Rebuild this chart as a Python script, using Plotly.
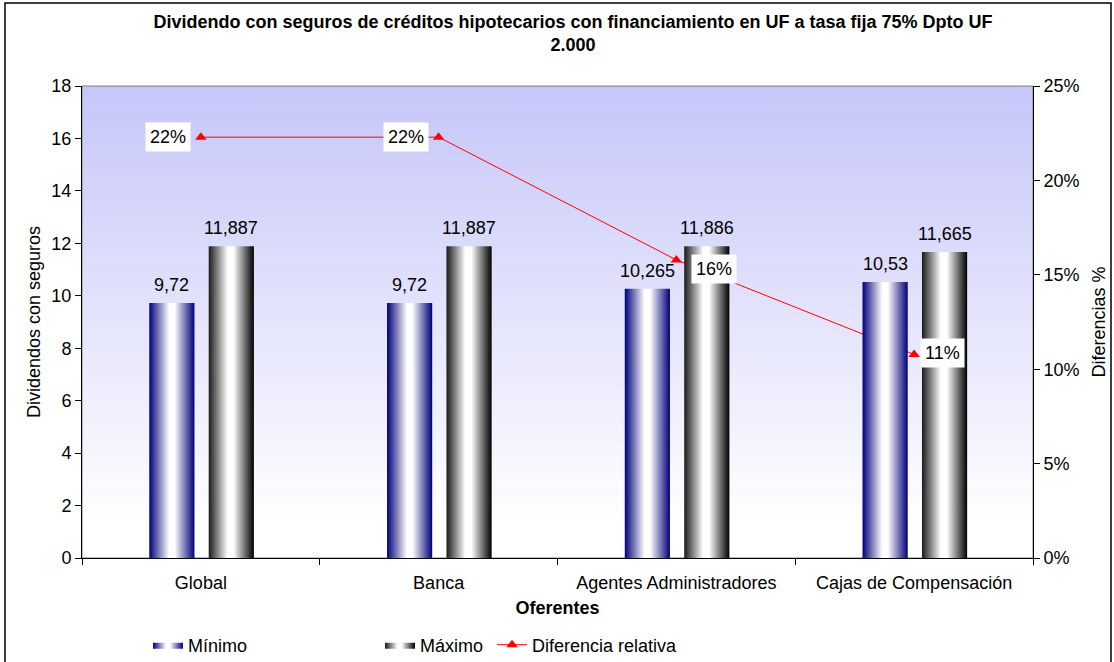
import base64
import plotly.graph_objects as go

categorias = ["Global", "Banca", "Agentes Administradores", "Cajas de Compensación"]
minimo = [9.72, 9.72, 10.265, 10.53]
maximo = [11.887, 11.887, 11.886, 11.665]
diferencia = [0.2229, 0.2229, 0.1579, 0.1078]
y_ticks = [0, 2, 4, 6, 8, 10, 12, 14, 16, 18]
y2_ticks = [0, 0.05, 0.10, 0.15, 0.20, 0.25]

FONT = "Liberation Sans, Arial, sans-serif"
FS = 18
W, H = 1114, 662

# plot area in pixels
L, R, T, B = 82, 1033, 86, 558
def px_x(p): return (p - L) / (R - L)
def px_y(p): return (B - p) / (B - T)

bar_w = 0.19
offsets = {"min": -0.122, "max": 0.128}
grad_min = [[0, "#00007a"], [0.44, "#ffffff"], [0.56, "#ffffff"], [1, "#00007a"]]
grad_max = [[0, "#1a1a1a"], [0.42, "#ffffff"], [0.55, "#ffffff"], [1, "#000000"]]

def fmt(v):
    return f"{v:g}".replace(".", ",")

fig = go.Figure()

for name, vals, key, grad, leg in [("Mínimo", minimo, "min", grad_min, "legend"),
                                   ("Máximo", maximo, "max", grad_max, "legend2")]:
    for i, v in enumerate(vals):
        x0 = i + offsets[key] - bar_w / 2
        x1 = i + offsets[key] + bar_w / 2
        fig.add_trace(go.Scatter(
            x=[x0, x0, x1, x1, x0], y=[0, v, v, 0, 0], xaxis="x2", yaxis="y",
            mode="lines", fill="toself", line=dict(width=0),
            fillgradient=dict(type="horizontal", colorscale=grad),
            name=name, legendgroup=name, showlegend=(i == 0), legend=leg,
            hoverinfo="skip"))
        fig.add_annotation(x=i + offsets[key], y=v, xref="x2", yref="y", text=fmt(v),
                           showarrow=False, yanchor="bottom", yshift=6,
                           font=dict(family=FONT, size=FS, color="black"))

fig.add_trace(go.Scatter(
    x=categorias, y=diferencia, xaxis="x", yaxis="y2", mode="lines+markers",
    name="Diferencia relativa", legend="legend3",
    line=dict(color="#ff0000", width=1),
    marker=dict(symbol="triangle-up", size=10, color="#ff0000")))

# data label placement (pixel shifts)
label_shift = [(-33, 0), (-33, 0), (38, -9), (28, 1)]
for c, d, (dx, dy) in zip(categorias, diferencia, label_shift):
    fig.add_annotation(x=c, y=d, xref="x", yref="y2", text=f"{round(d * 100)}%",
                       showarrow=False, xshift=dx, yshift=dy, bgcolor="white",
                       borderpad=4, font=dict(family=FONT, size=FS, color="black"))

svg = ('<svg xmlns="http://www.w3.org/2000/svg" width="100" height="100" preserveAspectRatio="none">'
       '<defs><linearGradient id="g" x1="0" y1="0" x2="0" y2="1">'
       '<stop offset="0" stop-color="#c6c6f9"/><stop offset="0.93" stop-color="#ffffff"/>'
       '</linearGradient></defs><rect width="100" height="100" fill="url(#g)"/></svg>')
bg_src = "data:image/svg+xml;base64," + base64.b64encode(svg.encode()).decode()

axis_font = dict(family=FONT, size=FS, color="black")

def legend_at(px, py):
    return dict(xref="container", yref="container", x=px / W, y=1 - py / H,
                xanchor="left", yanchor="middle", orientation="h",
                font=axis_font, bgcolor="rgba(0,0,0,0)")

fig.update_layout(
    width=W, height=H,
    margin=dict(l=L, r=W - R, t=T, b=H - B),
    paper_bgcolor="white", plot_bgcolor="rgba(0,0,0,0)",
    font=dict(family=FONT, size=FS, color="black"),
    title=dict(text="<b>Dividendo con seguros de créditos hipotecarios con financiamiento en UF a tasa fija 75% Dpto UF<br>2.000</b>",
               x=573 / W, xanchor="center", y=1 - 28 / H, yanchor="top",
               font=dict(family=FONT, size=18, color="black")),
    xaxis=dict(type="category", range=[-0.5, 3.5], tickson="boundaries", ticks="outside",
               ticklen=6, tickcolor="black", showline=True, linecolor="black", linewidth=1,
               showgrid=False, tickfont=axis_font, automargin=False, tickangle=0,
               ticklabelstandoff=8,
               title=dict(text="<b>Oferentes</b>", font=axis_font, standoff=9)),
    xaxis2=dict(overlaying="x", range=[-0.5, 3.5], visible=False, automargin=False),
    yaxis=dict(range=[0, 18], tickvals=y_ticks, ticks="outside", ticklen=6, tickcolor="black",
               showline=True, linecolor="black", showgrid=False, zeroline=False,
               tickfont=axis_font, automargin=False,
               title=dict(text="Dividendos con seguros", font=axis_font, standoff=6)),
    yaxis2=dict(range=[0, 0.25], tickvals=y2_ticks, tickformat=".0%", overlaying="y", side="right",
                ticks="outside", ticklen=6, tickcolor="black", showline=True, linecolor="black",
                showgrid=False, zeroline=False, tickfont=axis_font, automargin=False,
                title=dict(text="Diferencias %", font=axis_font, standoff=13)),
    legend=legend_at(148, 645),
    legend2=legend_at(380, 645),
    legend3=legend_at(492, 645),
    images=[dict(source=bg_src, xref="paper", yref="paper", x=0, y=1, sizex=1, sizey=1,
                 xanchor="left", yanchor="top", sizing="stretch", layer="below")],
    shapes=[
        dict(type="rect", xref="paper", yref="paper", x0=0, y0=0, x1=1, y1=1,
             line=dict(color="#808080", width=1), layer="below"),
        dict(type="rect", xref="paper", yref="paper", x0=px_x(5), y0=px_y(3),
             x1=px_x(1111), y1=px_y(670), line=dict(color="black", width=1.5)),
    ],
)

fig.write_html("out.html", config={"displayModeBar": False},
               post_script="document.body.style.margin = '0';")
